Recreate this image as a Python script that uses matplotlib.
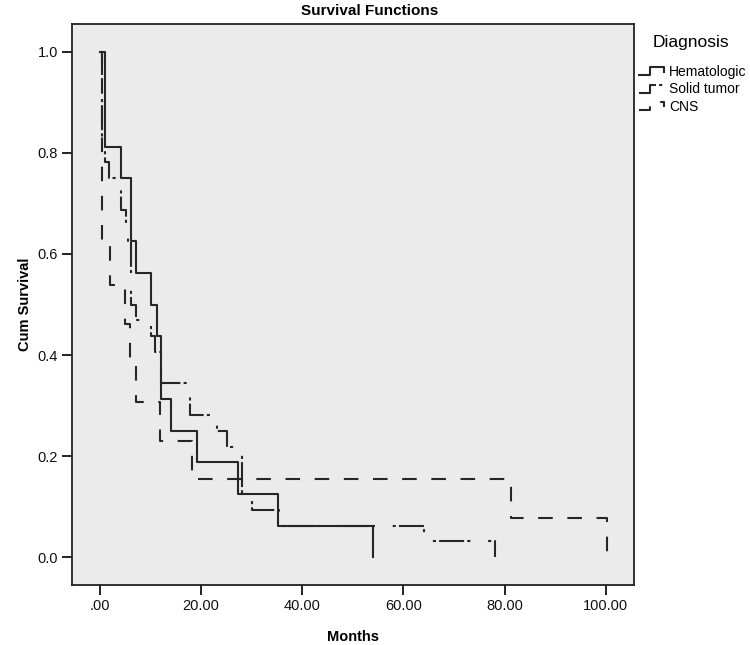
#!/usr/bin/env python

import numpy as np
import matplotlib
matplotlib.use('Agg')
import matplotlib.pyplot as plt
from matplotlib.legend_handler import HandlerBase
from matplotlib.lines import Line2D


plt.rcParams['font.family'] = ['Liberation Sans', 'DejaVu Sans']

# Kaplan-Meier steps (months, cumulative survival)
hema_t = [0, 1.1, 4.15, 6.1, 7.2, 10.15, 11.3, 12.05, 14.1, 19.2, 27.3, 35.2, 54.1]
hema_s = [1.0, 0.8125, 0.75, 0.625, 0.5625, 0.5, 0.4375, 0.3125, 0.25, 0.1875,
          0.125, 0.0625, 0.0]

solid_t = [0, 0.4, 1.0, 1.9, 4.15, 5.2, 5.6, 6.1, 7.2, 10.1, 11.0, 12.05, 17.8,
           23.1, 25.1, 28.1, 30.1, 35.4, 64.0, 78.2]
solid_s = [1.0, 0.8125, 0.78125, 0.75, 0.6875, 0.65625, 0.625, 0.5, 0.46875,
           0.4375, 0.40625, 0.34375, 0.28125, 0.25, 0.21875, 0.125, 0.09375,
           0.0625, 0.03125, 0.0]

cns_t = [0, 0.5, 2.0, 5.0, 6.0, 7.2, 11.9, 18.2, 81.2, 100.3]
cns_s = [1.0, 0.6154, 0.5385, 0.4615, 0.3846, 0.3077, 0.2308, 0.1538, 0.0769, 0.0]

labels = ['Hematologic', 'Solid tumor', 'CNS']
xticks = [0, 20, 40, 60, 80, 100]
xticklabels = ['.00', '20.00', '40.00', '60.00', '80.00', '100.00']
yticks = [0.0, 0.2, 0.4, 0.6, 0.8, 1.0]
yticklabels = ['0.0', '0.2', '0.4', '0.6', '0.8', '1.0']

lc = '#262626'
lw = 1.5


class StepHandler(HandlerBase):
    # little step glyph like the SPSS legend
    def create_artists(self, legend, orig_handle, xdescent, ydescent,
                       width, height, fontsize, trans):
        xs = np.array([0, 0.4, 0.4, 0.85, 0.85]) * width - xdescent
        ys = np.array([0.05, 0.05, 0.9, 0.9, 0.4]) * height - ydescent
        ln = Line2D(xs, ys)
        ln.update_from(orig_handle)
        ln.set_clip_on(False)
        ln.set_clip_box(None)
        ln.set_transform(trans)
        return [ln]


def main():
    fig = plt.figure(figsize=(7.5, 6.45), dpi=100)
    ax = fig.add_axes([72 / 750, 1 - 585 / 645, (634 - 72) / 750, (585 - 24) / 645])
    ax.set_facecolor('#ebebeb')

    l3, = ax.step(cns_t, cns_s, where='post', color=lc, lw=lw,
                  linestyle=(0, (7, 7)))
    l2, = ax.step(solid_t, solid_s, where='post', color=lc, lw=lw,
                  linestyle=(0, (12, 1.5, 1.5, 8.5, 1.5, 1.5)))
    l1, = ax.step(hema_t, hema_s, where='post', color=lc, lw=lw, linestyle='-')

    ax.set_xlim(-5.5, 105.6)
    ax.set_ylim(-0.055, 1.055)
    ax.set_xticks(xticks)
    ax.set_xticklabels(xticklabels)
    ax.set_yticks(yticks)
    ax.set_yticklabels(yticklabels)
    ax.tick_params(length=7, width=1.3, labelsize=10.5, pad=3, colors='#111111')
    for sp in ax.spines.values():
        sp.set_linewidth(1.3)
        sp.set_color('#222222')

    fig.text(370 / 750, 1 - 11 / 645, 'Survival Functions', ha='center',
             va='center', fontsize=11, fontweight='bold')
    ax.set_xlabel('Months', fontsize=10.5, fontweight='bold', labelpad=12)
    ax.set_ylabel('Cum Survival', fontsize=10.5, fontweight='bold', labelpad=4)

    fig.text(691 / 750, 1 - 43 / 645, 'Diagnosis', ha='center', va='center',
             fontsize=12.5)
    fig.legend([l1, l2, l3], labels, loc='upper left',
               bbox_to_anchor=(636 / 750, 1 - 62 / 645), frameon=False,
               fontsize=10, handler_map={Line2D: StepHandler()},
               handlelength=2.1, handletextpad=0.1, labelspacing=0.25,
               borderaxespad=0, borderpad=0.2)

    plt.savefig('out.png', dpi=100)
    plt.close()


if __name__ == "__main__":
    main()
